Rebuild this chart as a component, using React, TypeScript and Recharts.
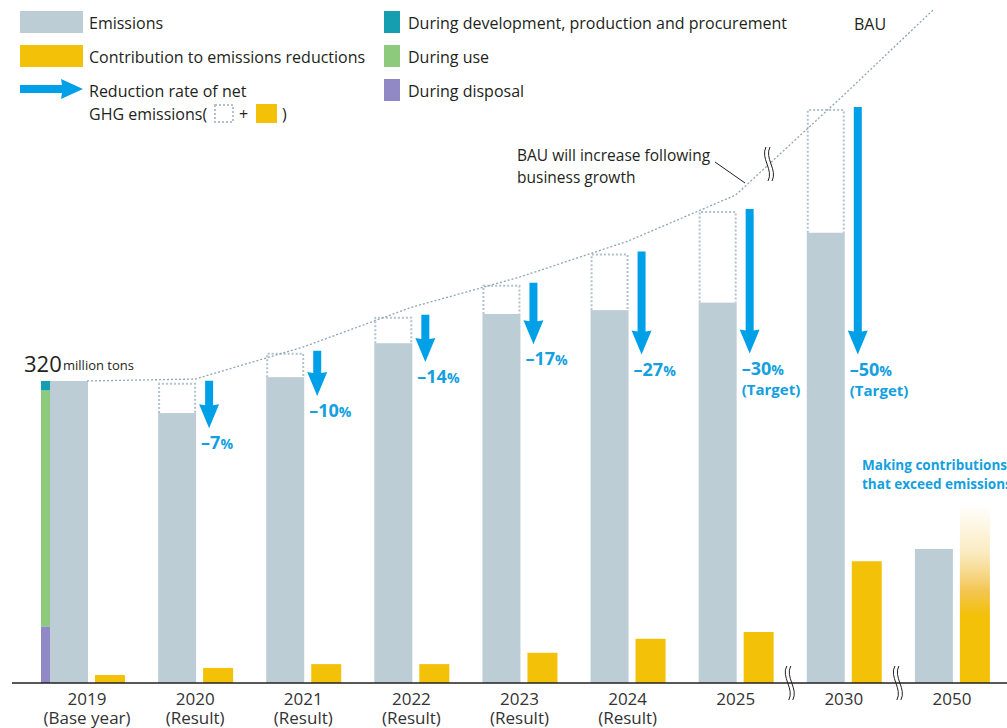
import React from "react";
import {
  ComposedChart,
  Bar,
  Line,
  XAxis,
  YAxis,
  Cell,
  ReferenceLine,
} from "recharts";

const years = ["2019", "2020", "2021", "2022", "2023", "2024", "2025", "2030", "2050"];
const yearNotes = ["(Base year)", "(Result)", "(Result)", "(Result)", "(Result)", "(Result)", "", "", ""];
// million tons
const emissions = [320, 286, 324, 360, 391, 395, 403, 477, 142];
const contributions = [8.5, 16, 20, 20, 32, 47, 54, 129, 189];
const bauBoxes = [null, 318, 350, 388, 422, 455, 500, 608, null];
const bauTrend = [320, 322, 356, 398, 430, 468, 517, 623, 732];
const reductionRates = [null, -7, -10, -14, -17, -27, -30, -50, null];
const rateNotes = ["", "", "", "", "", "", "(Target)", "(Target)", ""];
// 2019 breakdown: development/production/procurement, use, disposal
const breakdownNames = ["During development, production and procurement", "During use", "During disposal"];
const baseBreakdown = [10, 250, 60];

const GRAY = "#bdcdd6";
const YELLOW = "#f2c108";
const ARROW = "#00a0e9";
const BLUE_TEXT = "#149fe0";
const TEXT = "#231f20";
const DASH = "#b2c2cd";
const TREND = "#8ea5b5";
const breakdownColors = ["#159db0", "#8dca7c", "#9189c5"];

const data = years.map((year, i) => ({
  year,
  note: yearNotes[i],
  emissions: emissions[i],
  contribution: contributions[i],
  bau: bauBoxes[i],
  bauTrend: bauTrend[i],
  rate: reductionRates[i],
  rateNote: rateNotes[i],
}));

const EmissionShape = (props: any) => {
  const { x, y, width, height, payload, index } = props;
  const base = y + height;
  const ppu = height / payload.emissions;
  const toY = (v: number) => base - v * ppu;
  const out: any[] = [];

  out.push(<rect key="bar" x={x} y={y} width={width} height={height} fill={GRAY} />);

  if (index === 0) {
    // stack from the bottom: disposal, use, development
    let acc = 0;
    [2, 1, 0].forEach((k) => {
      const v = baseBreakdown[k];
      out.push(
        <rect key={"bd" + k} x={x - 9} y={toY(acc + v)} width={9} height={v * ppu} fill={breakdownColors[k]} />
      );
      acc += v;
    });
  }

  if (payload.bau != null) {
    const top = toY(payload.bau);
    out.push(
      <path
        key="box"
        d={`M ${x + 1} ${y} L ${x + 1} ${top + 1} L ${x + width - 1} ${top + 1} L ${x + width - 1} ${y}`}
        fill="none"
        stroke={DASH}
        strokeWidth={2}
        strokeDasharray="2 2"
      />
    );
    const ax = x + width + 13;
    const start = top - 2;
    const tip = toY(payload.emissions - payload.contribution);
    const headLen = 23;
    out.push(
      <path
        key="arrow"
        d={`M ${ax - 4} ${start} L ${ax + 4} ${start} L ${ax + 4} ${tip - headLen} L ${ax + 10} ${tip - headLen - 1} L ${ax} ${tip} L ${ax - 10} ${tip - headLen - 1} L ${ax - 4} ${tip - headLen} Z`}
        fill={ARROW}
      />
    );
    out.push(
      <text key="rate" x={ax - 8} y={tip + 21} fill={BLUE_TEXT} fontWeight={700} fontSize={18}>
        {`–${Math.abs(payload.rate)}`}
        <tspan fontSize={14}>%</tspan>
      </text>
    );
    if (payload.rateNote) {
      out.push(
        <text key="note" x={ax - 8} y={tip + 41} fill={BLUE_TEXT} fontWeight={700} fontSize={15}>
          {payload.rateNote}
        </text>
      );
    }
  }
  return <g>{out}</g>;
};

const YearTick = (props: any) => {
  const { x, y, payload, index } = props;
  const note = yearNotes[index];
  return (
    <g>
      <text x={x} y={y + 22} textAnchor="middle" fontSize={17} fill="#333">
        {payload.value}
      </text>
      {note ? (
        <text x={x} y={y + 41} textAnchor="middle" fontSize={17} fill="#333">
          {note}
        </text>
      ) : null}
    </g>
  );
};

const BreakMark = ({ x, y }: { x: number; y: number }) => {
  const a = (dx: number) => [
    [x + dx - 1, y - 17],
    [x + dx - 7, y - 6],
    [x + dx + 7, y + 6],
    [x + dx + 1, y + 17],
  ];
  const l = a(-2);
  const r = a(2);
  const p = (pt: number[]) => `${pt[0]} ${pt[1]}`;
  const left = `M ${p(l[0])} C ${p(l[1])}, ${p(l[2])}, ${p(l[3])}`;
  const right = `M ${p(r[0])} C ${p(r[1])}, ${p(r[2])}, ${p(r[3])}`;
  const fillPath = `${left} L ${p(r[3])} C ${p(r[2])}, ${p(r[1])}, ${p(r[0])} Z`;
  return (
    <g>
      <path d={fillPath} fill="#fff" />
      <path d={left} fill="none" stroke={TEXT} strokeWidth={1} />
      <path d={right} fill="none" stroke={TEXT} strokeWidth={1} />
    </g>
  );
};

const AxisBreak = (props: any) => {
  const x = props.x1;
  const y = Math.max(props.y1, props.y2);
  return <BreakMark x={x} y={y} />;
};

const Overlay = () => (
  <svg
    width={1007}
    height={728}
    style={{ position: "absolute", left: 0, top: 0, pointerEvents: "none" }}
  >
    <g fontSize={16} fill={TEXT}>
      <rect x={20} y={11} width={63} height={22} fill={GRAY} />
      <text x={89} y={29}>Emissions</text>
      <rect x={20} y={45} width={63} height={22} fill={YELLOW} />
      <text x={89} y={63}>Contribution to emissions reductions</text>
      <path d="M 20 85 L 62 85 L 61 79 L 83 89 L 61 99 L 62 93 L 20 93 Z" fill={ARROW} />
      <text x={89} y={97}>Reduction rate of net</text>
      <text x={89} y={120}>GHG emissions(</text>
      <rect x={215} y={105} width={18} height={17} fill="none" stroke={DASH} strokeWidth={2} strokeDasharray="2 2" />
      <text x={239} y={120}>+</text>
      <rect x={256} y={104} width={21} height={19} fill={YELLOW} />
      <text x={282} y={120}>)</text>

      {breakdownNames.map((name, i) => (
        <g key={name}>
          <rect x={384} y={11 + i * 34} width={16} height={22} fill={breakdownColors[i]} />
          <text x={408} y={29 + i * 34}>{name}</text>
        </g>
      ))}

      <text x={854} y={30}>BAU</text>

      <text x={517} y={161} fontSize={15.5}>BAU will increase following</text>
      <text x={517} y={183} fontSize={15.5}>business growth</text>
      <line x1={715} y1={162} x2={745} y2={183} stroke={TEXT} strokeWidth={1} />

      <text x={24} y={372} fontSize={22}>320</text>
      <text x={63} y={370} fontSize={13}>million tons</text>
    </g>
    <BreakMark x={769} y={164} />
    <g fill={BLUE_TEXT} fontWeight={700} fontSize={13.5}>
      <text x={862} y={470}>Making contributions</text>
      <text x={862} y={489}>that exceed emissions</text>
    </g>
  </svg>
);

export default function App() {
  return (
    <div
      style={{
        position: "absolute",
        left: 0,
        top: 0,
        width: 1007,
        height: 728,
        background: "#fff",
        fontFamily: "'Open Sans', sans-serif",
      }}
    >
      <svg width={0} height={0} style={{ position: "absolute" }}>
        <defs>
          <linearGradient id="contribFade" x1="0" y1="0" x2="0" y2="1">
            <stop offset="0%" stopColor="#f6d060" stopOpacity={0} />
            <stop offset="26%" stopColor="#f5cf6a" stopOpacity={0.4} />
            <stop offset="48%" stopColor="#f1bb35" stopOpacity={0.85} />
            <stop offset="62%" stopColor={YELLOW} stopOpacity={1} />
            <stop offset="100%" stopColor={YELLOW} stopOpacity={1} />
          </linearGradient>
        </defs>
      </svg>
      <ComposedChart
        width={1007}
        height={728}
        data={data}
        margin={{ top: 10, right: 0, bottom: 0, left: 12 }}
        barGap={7}
      >
        <XAxis
          dataKey="year"
          height={45}
          padding={{ left: 21, right: 1 }}
          tickLine={false}
          tickSize={0}
          tickMargin={0}
          interval={0}
          tick={<YearTick />}
          axisLine={{ stroke: TEXT, strokeWidth: 1.5 }}
        />
        <YAxis hide type="number" domain={[0, 713]} allowDataOverflow />
        <Bar dataKey="emissions" barSize={38} fill={GRAY} shape={EmissionShape} isAnimationActive={false} />
        <Bar dataKey="contribution" barSize={30} fill={YELLOW} isAnimationActive={false}>
          {data.map((d) => (
            <Cell key={d.year} fill={d.year === "2050" ? "url(#contribFade)" : YELLOW} />
          ))}
        </Bar>
        <Line
          dataKey="bauTrend"
          type="linear"
          stroke={TREND}
          strokeWidth={1.3}
          strokeDasharray="2 2"
          dot={false}
          activeDot={false}
          isAnimationActive={false}
        />
        <ReferenceLine x="2030" position="start" shape={AxisBreak} />
        <ReferenceLine x="2050" position="start" shape={AxisBreak} />
      </ComposedChart>
      <Overlay />
    </div>
  );
}
